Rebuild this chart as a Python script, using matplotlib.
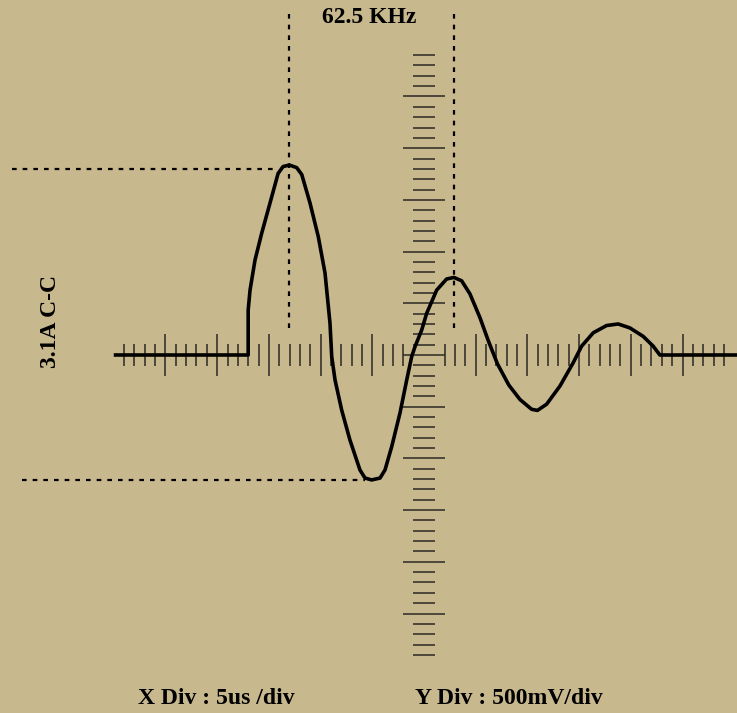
#!/usr/bin/env python3
"""Scope trace: damped pulse response with peak cursors."""

import matplotlib.pyplot as plt
from matplotlib.ticker import FixedLocator, NullFormatter

BG = "#c8b88e"
TICK = "#2b2923"

# trace, time in us (1 minor div = 1 us), level in V (1 minor div = 0.1 V)
trace_t = [-30.0, -17.0, -17.0, -16.82, -16.34, -15.69, -14.89, -14.11, -13.63,
           -13.02, -12.31, -11.82, -11.02, -10.22, -9.57, -9.09, -8.92, -8.60,
           -7.96, -7.16, -6.19, -5.70, -5.06, -4.25, -3.77, -3.12, -2.32, -1.67,
           -1.19, -0.87, -0.22, 0.26, 1.23, 2.19, 2.90, 3.64, 4.45, 5.41, 6.22,
           7.10, 8.20, 9.28, 10.41, 10.97, 11.86, 13.15, 14.43, 15.24, 16.37,
           17.66, 18.78, 19.91, 21.20, 22.17, 22.81, 30.3]
trace_v = [0.0, 0.0, 0.435, 0.628, 0.918, 1.179, 1.469, 1.755, 1.822,
           1.837, 1.812, 1.745, 1.469, 1.144, 0.793, 0.309, -0.016, -0.242,
           -0.532, -0.822, -1.112, -1.190, -1.208, -1.190, -1.112, -0.886,
           -0.561, -0.242, -0.016, 0.080, 0.242, 0.403, 0.628, 0.735, 0.750,
           0.718, 0.590, 0.362, 0.138, -0.085, -0.290, -0.430, -0.525, -0.536,
           -0.476, -0.300, -0.075, 0.085, 0.215, 0.285, 0.300, 0.262, 0.180,
           0.085, 0.0, 0.0]

# cursor lines
peak_t = [-13.05, 2.90]
cursor_top, cursor_bot = 3.30, 0.22
hi_level, hi_from, hi_to = 1.80, -39.8, -14.2
lo_level, lo_from, lo_to = -1.208, -38.9, -5.7

freq_label = "62.5 KHz"
amp_label = "3.1A C-C"
x_label = "X Div : 5us /div"
y_label = "Y Div : 500mV/div"

x_minor = [i for i in range(-29, 30) if i % 5 and abs(i) > 1]
x_major = [i for i in range(-25, 30, 5) if i != 0]
y_minor = [i / 10 for i in range(-29, 30) if i % 5]
y_major = [i / 10 for i in range(-25, 30, 5)]


def main() -> None:
    fig = plt.figure(figsize=(7.37, 7.13), dpi=100, facecolor=BG)
    ax = fig.add_axes([0, 0, 1, 1], facecolor=BG)
    ax.set_xlim(-41.0, 30.27)
    ax.set_ylim(-3.462, 3.433)

    for side in ("top", "right"):
        ax.spines[side].set_visible(False)
    ax.spines["bottom"].set_position(("data", 0))
    ax.spines["left"].set_position(("data", 0))
    ax.spines["bottom"].set_visible(False)
    ax.spines["left"].set_visible(False)

    ax.xaxis.set_major_locator(FixedLocator(x_major))
    ax.xaxis.set_minor_locator(FixedLocator(x_minor))
    ax.yaxis.set_major_locator(FixedLocator(y_major))
    ax.yaxis.set_minor_locator(FixedLocator(y_minor))
    for axis in (ax.xaxis, ax.yaxis):
        axis.set_major_formatter(NullFormatter())
        axis.set_minor_formatter(NullFormatter())
    ax.tick_params(which="major", direction="inout", length=30.5, width=1.1, color=TICK)
    ax.tick_params(which="minor", direction="inout", length=15.8, width=1.1, color=TICK)

    dot = dict(color="black", linewidth=1.6, linestyle=(0, (2.1, 2.7)), zorder=2)
    ax.plot([hi_from, hi_to], [hi_level, hi_level], **dot)
    ax.plot([lo_from, lo_to], [lo_level, lo_level], **dot)
    for t in peak_t:
        ax.plot([t, t], [cursor_top, cursor_bot], **dot)

    ax.plot(trace_t, trace_v, color="black", linewidth=2.6, solid_joinstyle="round",
            solid_capstyle="butt", zorder=3)

    font = dict(family="Liberation Serif", fontweight="bold", fontsize=17, color="black")
    fig.text(0.5007, 0.976, freq_label, ha="center", va="center", **font)
    fig.text(0.069, 0.549, amp_label, ha="center", va="center", rotation=90, **font)
    fig.text(0.2938, 0.021, x_label, ha="center", va="center", **font)
    fig.text(0.690, 0.021, y_label, ha="center", va="center", **font)

    fig.savefig("out.png", dpi=100, facecolor=BG)
    plt.close(fig)


if __name__ == "__main__":
    main()
